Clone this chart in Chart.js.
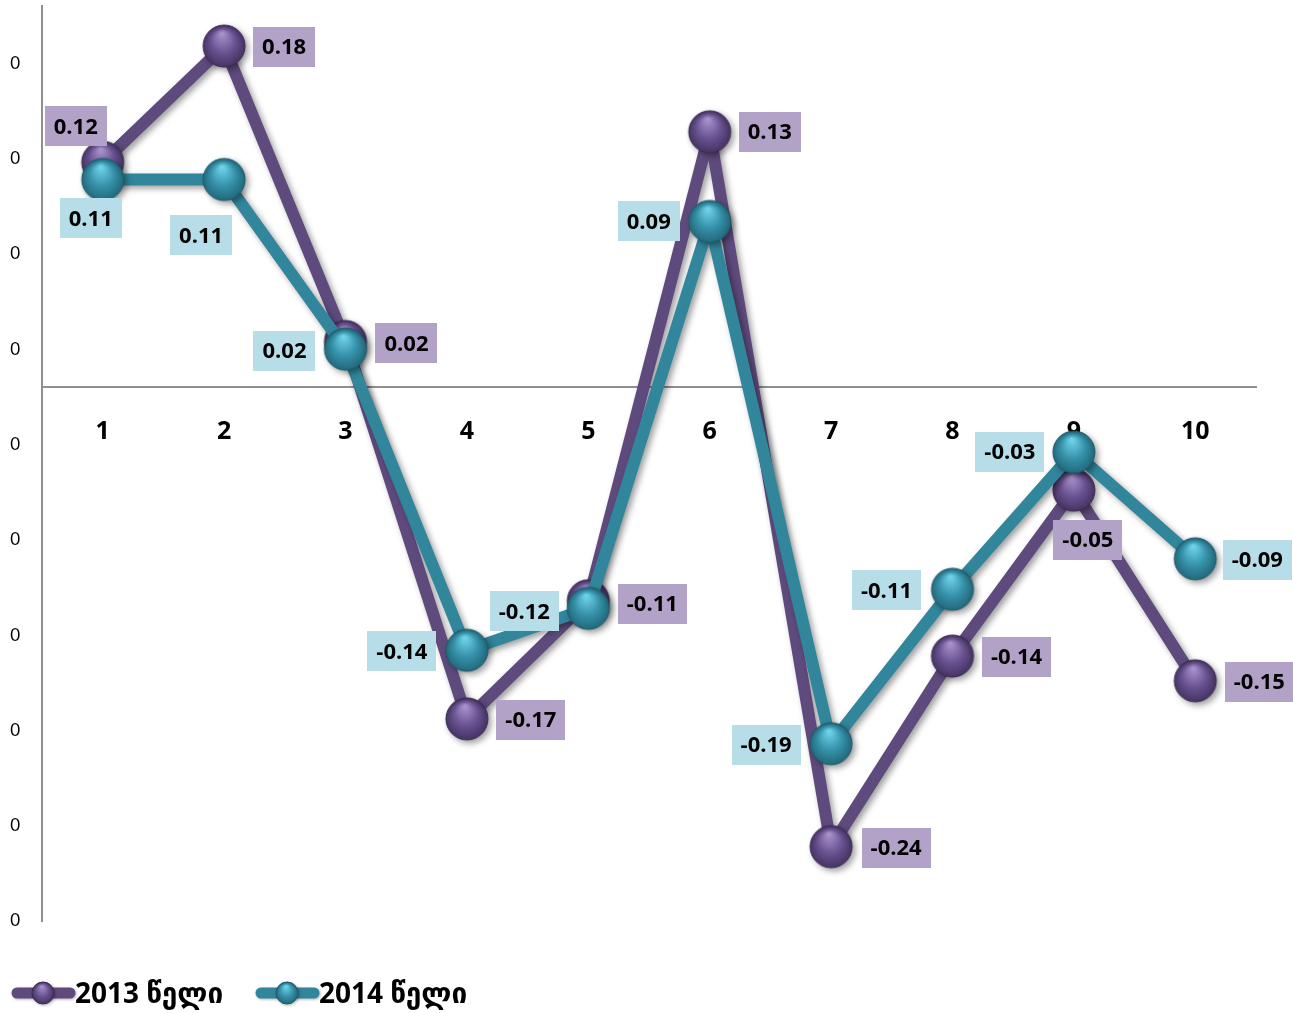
<!DOCTYPE html>
<html><head><meta charset="utf-8">
<script src="https://cdn.jsdelivr.net/npm/chart.js@4/dist/chart.umd.min.js"></script>
<style>html,body{margin:0;padding:0;background:#fff;}#wrap{width:1293px;height:1013px;}</style>
</head><body><div id="wrap"><canvas id="c" width="1293" height="1013"></canvas></div>
<script>
const categories = ['1','2','3','4','5','6','7','8','9','10'];
const seriesNames = ['2013 წელი', '2014 წელი'];
const values2013 = [0.118, 0.179, 0.024, -0.174, -0.112, 0.134, -0.241, -0.141, -0.054, -0.154];
const values2014 = [0.109, 0.109, 0.020, -0.138, -0.116, 0.087, -0.187, -0.106, -0.034, -0.090];
const yTickValues = [-0.28, -0.23, -0.18, -0.13, -0.08, -0.03, 0.02, 0.07, 0.12, 0.17];
const yTickLabels = ['0','0','0','0','0','0','0','0','0','0'];

const FONT = 'Lato, "DejaVu Sans", sans-serif';
const BFONT = '"Open Sans", "DejaVu Sans", sans-serif';
const colors = {
  line: ['#5f4a7d', '#31869c'],
  box: ['#b3a2c8', '#b7dee8'],
  sphere: [
    ['#a892cc', '#6a5392', '#3b2b55', '#3a2c52'],
    ['#6fd3ea', '#3692aa', '#1d5d6e', '#1e5a69']
  ]
};
// label box centre offsets relative to each point (style only)
const labelOffsets = [
  [[-27,-36],[60,1],[61,2],[64,1],[64,3],[60,0],[65,1],[64,1],[14,50],[64,1]],
  [[-12,39],[-23,56],[-61,2],[-65,1],[-64,3],[-61,0],[-65,1],[-66,1],[-64,0],[62,1]]
];

function makeSphere(r, c) {
  const pad = 2, s = 2*r + 2*pad;
  const cv = document.createElement('canvas'); cv.width = s; cv.height = s;
  const g = cv.getContext('2d');
  const cx = s/2, cy = s/2;
  const grad = g.createRadialGradient(cx - r*0.1, cy - r*0.6, r*0.05, cx, cy + r*0.1, r*1.1);
  grad.addColorStop(0, c[0]); grad.addColorStop(0.5, c[1]); grad.addColorStop(1, c[2]);
  g.beginPath(); g.arc(cx, cy, r, 0, Math.PI*2); g.fillStyle = grad; g.fill();
  g.lineWidth = 1; g.strokeStyle = c[3]; g.stroke();
  return cv;
}
const spheres = [makeSphere(21, colors.sphere[0]), makeSphere(21, colors.sphere[1])];
const legendSpheres = [makeSphere(11, colors.sphere[0]), makeSphere(11, colors.sphere[1])];

const shadowPlugin = {
  id: 'shadow',
  beforeDatasetDraw(chart) {
    const ctx = chart.ctx; ctx.save();
    ctx.shadowColor = 'rgba(0,0,0,0.38)'; ctx.shadowBlur = 6; ctx.shadowOffsetX = 3; ctx.shadowOffsetY = 3;
  },
  afterDatasetDraw(chart) { chart.ctx.restore(); }
};

const labelPlugin = {
  id: 'boxLabels',
  afterDatasetsDraw(chart) {
    const ctx = chart.ctx;
    ctx.save();
    ctx.font = 'bold 22px ' + BFONT;
    ctx.textAlign = 'center'; ctx.textBaseline = 'middle';
    chart.data.datasets.forEach((ds, di) => {
      const meta = chart.getDatasetMeta(di);
      meta.data.forEach((pt, i) => {
        const txt = ds.data[i].toFixed(2);
        const w = ctx.measureText(txt).width + 18, h = 40;
        const off = labelOffsets[di][i];
        const cx = pt.x + off[0], cy = pt.y + off[1];
        ctx.fillStyle = colors.box[di];
        ctx.fillRect(Math.round(cx - w/2), Math.round(cy - h/2), Math.round(w), h);
        ctx.fillStyle = '#000';
        ctx.fillText(txt, cx, cy + 1);
      });
    });
    ctx.restore();
  }
};

const legendPlugin = {
  id: 'customLegend',
  afterDraw(chart) {
    const ctx = chart.ctx;
    const items = [{x: 12}, {x: 256}];
    ctx.save();
    items.forEach((it, di) => {
      const y = 993;
      ctx.save();
      ctx.shadowColor = 'rgba(0,0,0,0.3)'; ctx.shadowBlur = 3; ctx.shadowOffsetX = 1; ctx.shadowOffsetY = 1;
      ctx.strokeStyle = colors.line[di]; ctx.lineWidth = 11; ctx.lineCap = 'round';
      ctx.beginPath(); ctx.moveTo(it.x + 5, y); ctx.lineTo(it.x + 58, y); ctx.stroke();
      const sp = legendSpheres[di];
      ctx.drawImage(sp, it.x + 31 - sp.width/2, y - sp.height/2);
      ctx.restore();
      ctx.font = 'bold 28px ' + BFONT;
      ctx.fillStyle = '#000'; ctx.textAlign = 'left'; ctx.textBaseline = 'alphabetic';
      ctx.fillText(chart.data.datasets[di].label, it.x + 63, 1003);
    });
    ctx.restore();
  }
};

new Chart(document.getElementById('c'), {
  type: 'line',
  data: {
    labels: categories,
    datasets: [
      { label: seriesNames[0], data: values2013, order: 1, borderColor: colors.line[0], borderWidth: 12,
        pointBorderWidth: 0, pointStyle: spheres[0], fill: false, tension: 0, clip: false, borderJoinStyle: 'round' },
      { label: seriesNames[1], data: values2014, order: 0, borderColor: colors.line[1], borderWidth: 12,
        pointBorderWidth: 0, pointStyle: spheres[1], fill: false, tension: 0, clip: false, borderJoinStyle: 'round' }
    ]
  },
  options: {
    responsive: false, animation: false, events: [],
    layout: { autoPadding: false, padding: { left: 0, right: 37, top: 6, bottom: 92 } },
    plugins: { legend: { display: false }, tooltip: { enabled: false } },
    scales: {
      x: {
        type: 'category', offset: true, position: { y: 0 },
        grid: { display: false, drawTicks: false },
        border: { display: true, color: '#8f8f8f', width: 2 },
        ticks: { font: { family: BFONT, size: 25, weight: 'bold' }, color: '#000', padding: 30, maxRotation: 0, autoSkip: false }
      },
      y: {
        min: -0.28, max: 0.2,
        grid: { display: false, drawTicks: false },
        border: { display: true, color: '#8f8f8f', width: 2 },
        afterBuildTicks(s) { s.ticks = yTickValues.map(v => ({ value: v })); },
        afterFit(s) { s.width = 42; s.paddingTop = 0; s.paddingBottom = 0; },
        ticks: { callback: (v, i) => yTickLabels[i], font: { family: FONT, size: 17 }, color: '#000', padding: 22 }
      }
    }
  },
  plugins: [shadowPlugin, labelPlugin, legendPlugin]
});
</script></body></html>
